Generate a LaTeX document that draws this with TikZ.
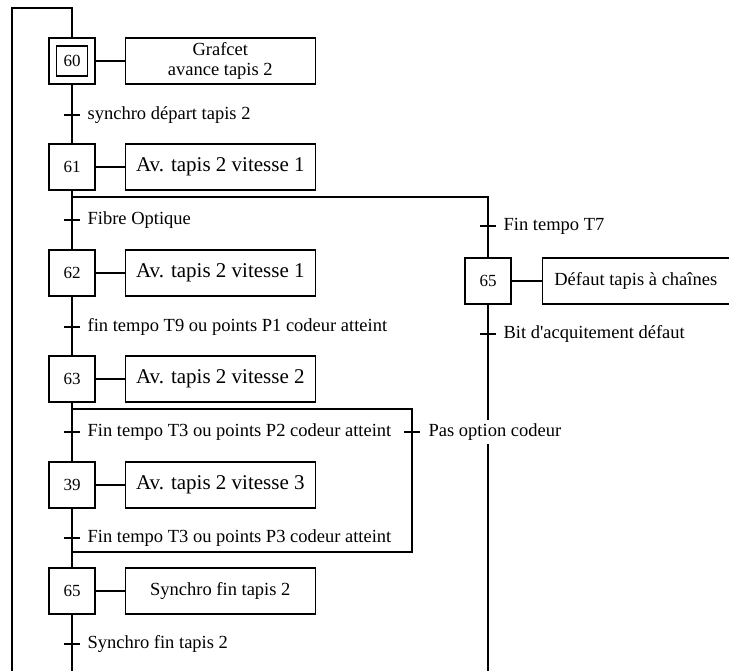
\documentclass[tikz,border=0pt]{standalone}
\usepackage{fontspec}
\setmainfont{Liberation Serif}
\usetikzlibrary{positioning, calc}

\begin{document}
\begin{tikzpicture}[x=1pt, y=-1pt, line width=1.3pt,
  etape/.style={draw, minimum size=46pt, inner sep=0pt, font=\fontsize{17}{17}\selectfont},
  action/.style={draw, minimum width=190pt, minimum height=46pt, inner sep=0pt, align=center, font=\fontsize{18.5}{19.5}\selectfont},
  grande/.style={font=\fontsize{21}{21}\selectfont},
  recept/.style={inner sep=0pt, font=\fontsize{18.5}{18.5}\selectfont}]
\useasboundingbox (0,0) rectangle (729,671);

% etapes
\node[etape] (e60) at (72,61) {};
\node[draw, minimum width=31pt, minimum height=30pt, inner sep=0pt, font=\fontsize{17}{17}\selectfont] (e60b) at (e60.center) {60};
\node[etape] (e61) at (72,167) {61};
\node[etape] (e62) at (72,273) {62};
\node[etape] (e63) at (72,379) {63};
\node[etape] (e39) at (72,485) {39};
\node[etape] (e65) at (72,591) {65};
\node[etape] (e65d) at (488,281) {65};

% actions
\node[action, right=29pt of e60] (a60) {Grafcet\\avance tapis 2};
\node[action, grande, right=29pt of e61] (a61) {Av. tapis 2 vitesse 1};
\node[action, grande, right=29pt of e62] (a62) {Av. tapis 2 vitesse 1};
\node[action, grande, right=29pt of e63] (a63) {Av. tapis 2 vitesse 2};
\node[action, grande, right=29pt of e39] (a39) {Av. tapis 2 vitesse 3};
\node[action, right=29pt of e65] (a65) {Synchro fin tapis 2};
\node[action, minimum width=187pt, right=30pt of e65d] (a65d) {Défaut tapis à chaînes};
\foreach \e in {60,61,62,63,39,65,65d}
  \draw (e\e) -- (a\e);

% points de liaison
\coordinate (haut) at (72,8);
\coordinate (coin) at (12,8);
\coordinate (bas) at (12,671);
\coordinate (bas1) at (72,671);
\coordinate (bas2) at (488,671);
\coordinate (div1) at (72,197);
\coordinate (div1d) at (488,197);
\coordinate (div2) at (72,409);
\coordinate (div2d) at (412,409);
\coordinate (conv2) at (72,552);
\coordinate (conv2d) at (412,552);

% liaisons
\draw (bas) -- (coin) -- (haut) -- (e60);
\draw (e60) -- (e61) -- (e62) -- (e63) -- (e39) -- (e65) -- (bas1);
\draw (div1) -- (div1d) -- (e65d) -- (bas2);
\draw (div2) -- (div2d) -- (conv2d) -- (conv2);

% transitions
\coordinate (t60) at (72,115);
\coordinate (t61) at (72,220);
\coordinate (t62) at (72,327);
\coordinate (t63) at (72,432);
\coordinate (t39) at (72,538);
\coordinate (t65) at (72,644);
\coordinate (t61d) at (488,226);
\coordinate (t65d) at (488,334);
\coordinate (t63d) at (412,432);
\foreach \t in {t60,t61,t62,t63,t39,t65,t61d,t65d,t63d}
  \draw ([xshift=-8pt]\t) -- ([xshift=8pt]\t);

\node[recept, right=15pt of t60] (r60) {synchro départ tapis 2};
\node[recept, right=15pt of t61] (r61) {Fibre Optique};
\node[recept, right=15pt of t62] (r62) {fin tempo T9 ou points P1 codeur atteint};
\node[recept, right=15pt of t63] (r63) {Fin tempo T3 ou points P2 codeur atteint};
\node[recept, right=15pt of t39] (r39) {Fin tempo T3 ou points P3 codeur atteint};
\node[recept, right=15pt of t65] (r65) {Synchro fin tapis 2};
\node[recept, right=15pt of t61d] (r61d) {Fin tempo T7};
\node[recept, right=15pt of t65d] (r65d) {Bit d\textquotesingle acquitement défaut};
\node[recept, fill=white, inner ysep=3.5pt, right=16pt of t63d] (r63d) {Pas option codeur};
\end{tikzpicture}
\end{document}
